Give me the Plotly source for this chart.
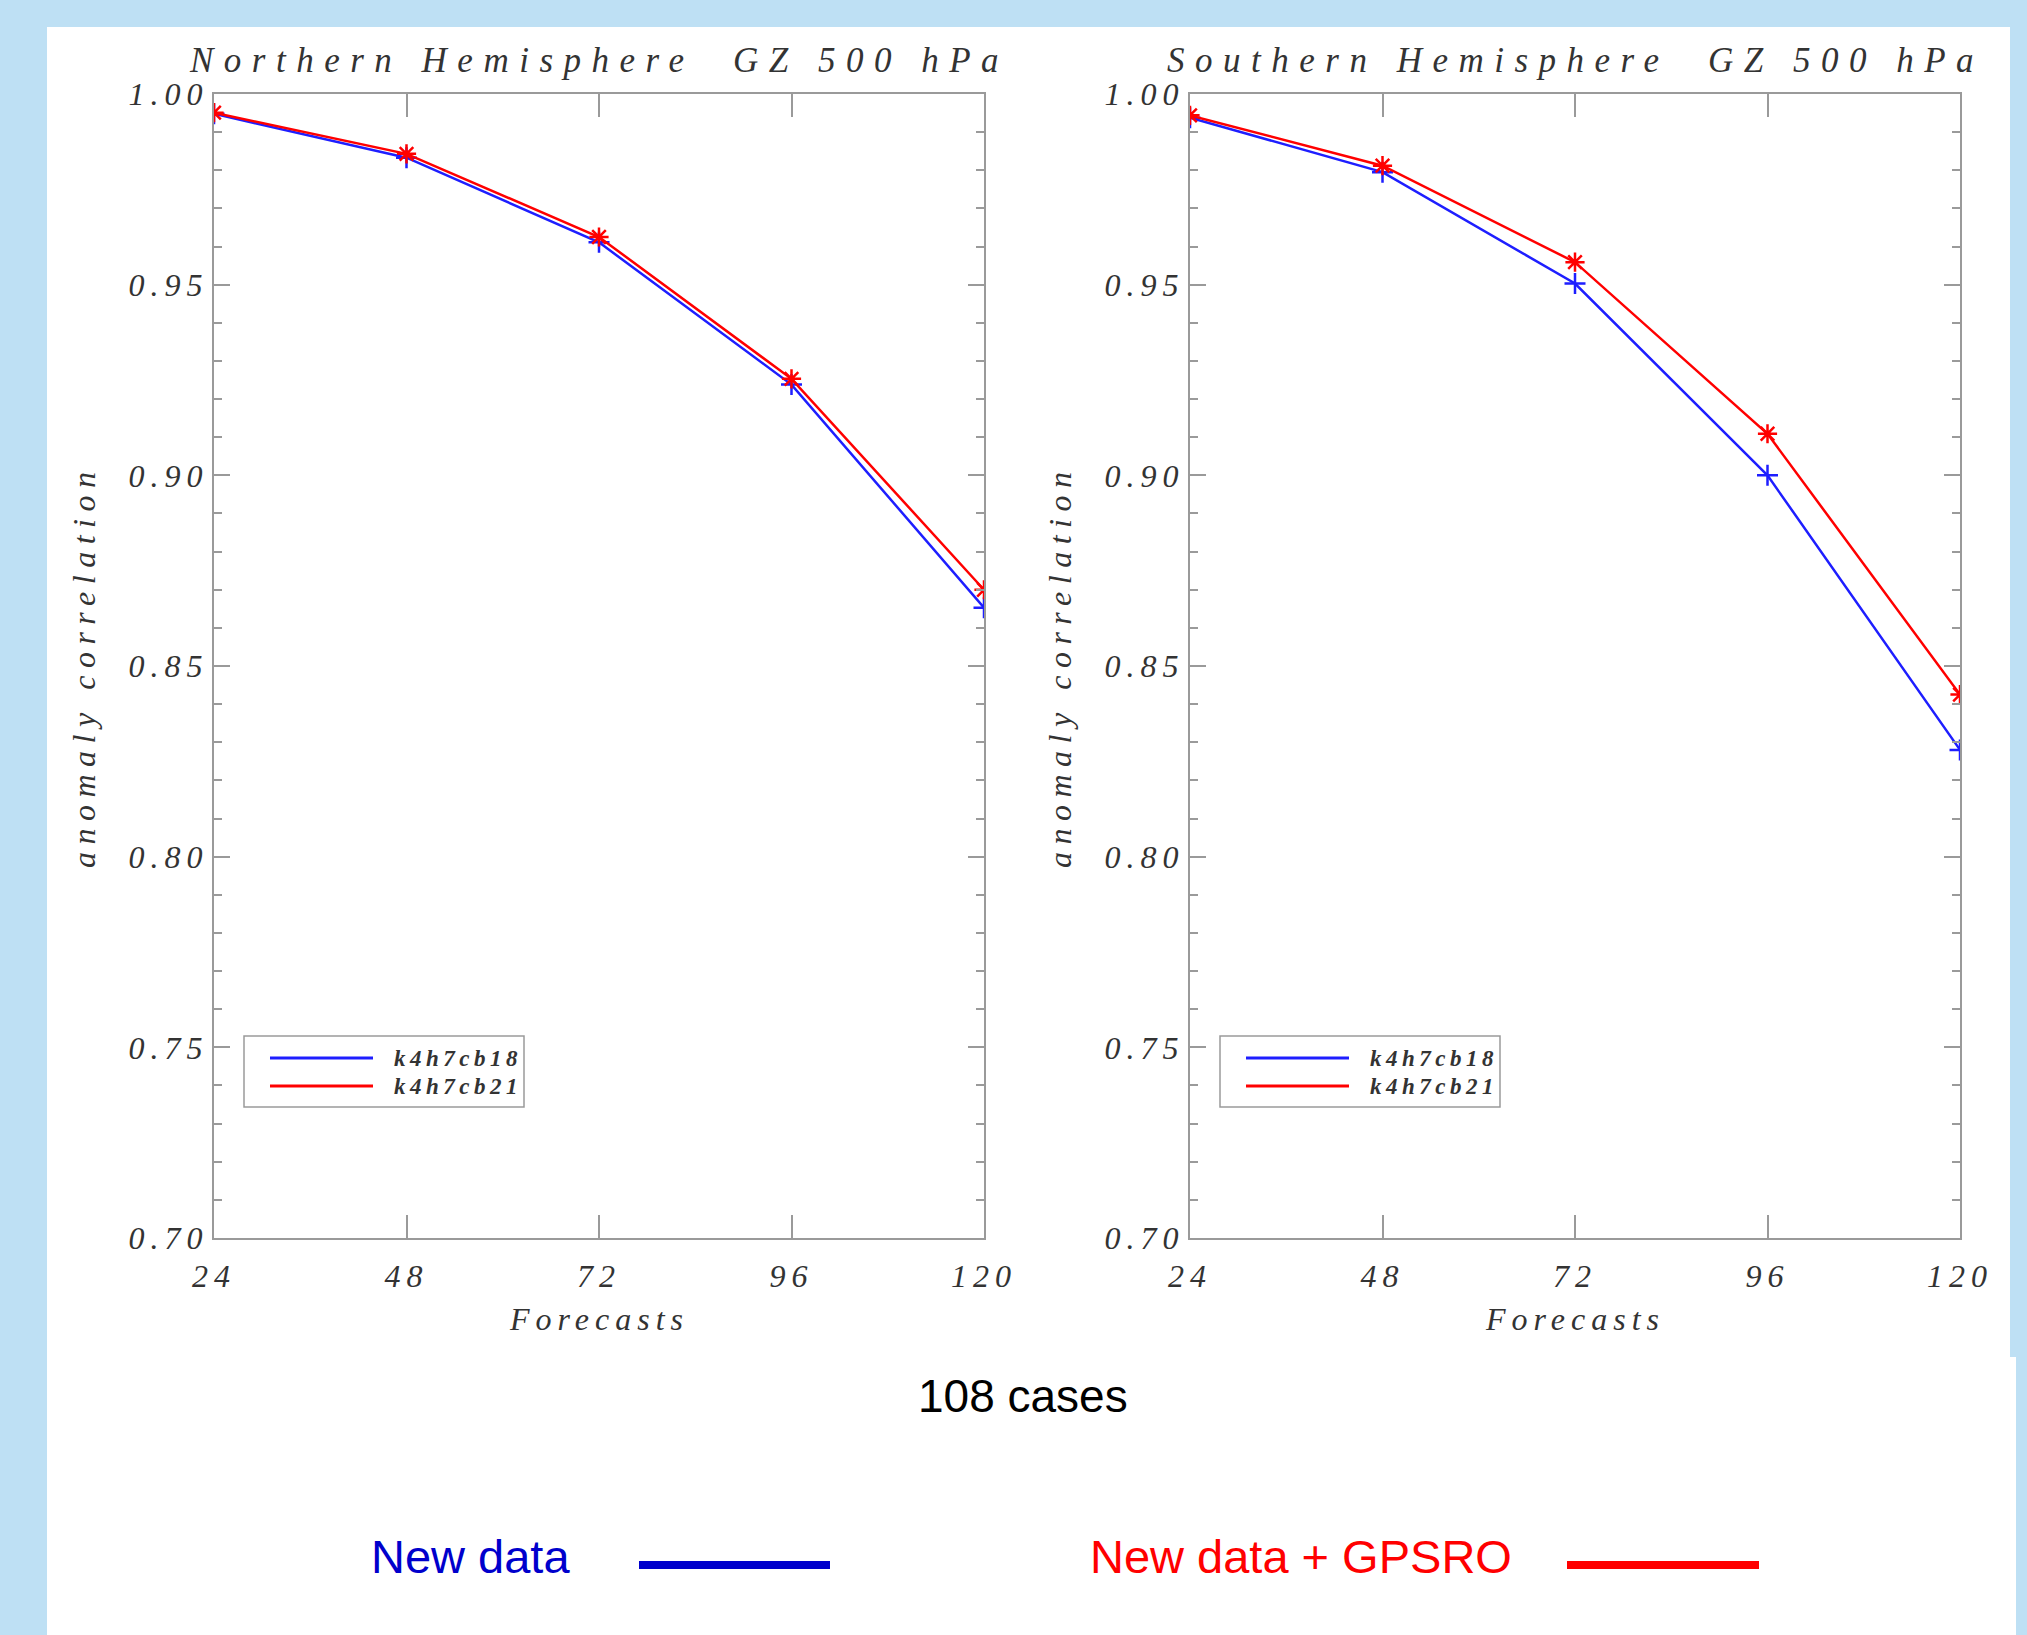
import plotly.graph_objects as go

# ---------------- data ----------------
forecast_hours = [24, 48, 72, 96, 120]
x_tick_labels = ["24", "48", "72", "96", "120"]
y_tick_values = [0.70, 0.75, 0.80, 0.85, 0.90, 0.95, 1.00]
y_tick_labels = ["0.70", "0.75", "0.80", "0.85", "0.90", "0.95", "1.00"]

nh_new_data = [0.9948, 0.9833, 0.9611, 0.9238, 0.8653]     # k4h7cb18
nh_new_gpsro = [0.9951, 0.9843, 0.9625, 0.9253, 0.8700]    # k4h7cb21
sh_new_data = [0.9938, 0.9795, 0.9503, 0.9000, 0.8280]     # k4h7cb18
sh_new_gpsro = [0.9944, 0.9812, 0.9559, 0.9109, 0.8425]    # k4h7cb21

panel_titles = ["Northern Hemisphere\u00a0\u00a0GZ 500 hPa",
                "Southern Hemisphere\u00a0\u00a0GZ 500 hPa"]
run_names = ["k4h7cb18", "k4h7cb21"]
x_title = "Forecasts"
y_title = "anomaly correlation"
cases_text = "108 cases"
bottom_labels = ["New data", "New data + GPSRO"]

# ---------------- styling ----------------
W, H = 2027, 1635
BG = "rgb(190,224,244)"
GREY = "#9a9a9a"
TXT = "#333333"
BLUE = "rgb(30,30,255)"
RED = "rgb(255,0,0)"
SERIF = "Liberation Serif"


def px(x):
    return x / W


def py(y):
    return 1 - y / H


def spaced(text, ls):
    return f'<span style="letter-spacing:{ls}px">{text}</span>'


dom_y = [py(1238), py(94)]
dom_x = [[px(214), px(984)], [px(1190), px(1960)]]

fig = go.Figure()

panels = [(nh_new_data, nh_new_gpsro), (sh_new_data, sh_new_gpsro)]
for i, (blue_vals, red_vals) in enumerate(panels):
    xa = "x" if i == 0 else "x2"
    ya = "y" if i == 0 else "y2"
    fig.add_trace(go.Scatter(
        x=forecast_hours, y=blue_vals, xaxis=xa, yaxis=ya, name=run_names[0],
        mode="lines+markers", showlegend=False,
        line=dict(color=BLUE, width=2.5),
        marker=dict(symbol="cross-thin", size=15, color=BLUE,
                    line=dict(color=BLUE, width=2.5)),
    ))
    fig.add_trace(go.Scatter(
        x=forecast_hours, y=red_vals, xaxis=xa, yaxis=ya, name=run_names[1],
        mode="lines+markers", showlegend=False,
        line=dict(color=RED, width=2.5),
        marker=dict(symbol="asterisk-open", size=16, color=RED,
                    line=dict(color=RED, width=2.5)),
    ))

tickfont = dict(family=SERIF, size=32, color=TXT, style="italic")

for i in range(2):
    sx = "" if i == 0 else "2"
    fig.layout["xaxis" + sx] = dict(
        domain=dom_x[i], anchor="y" + sx, range=[24, 120], automargin=False,
        tickmode="array", tickvals=forecast_hours,
        ticktext=[spaced(t, 6) for t in x_tick_labels],
        ticks="inside", ticklen=23, tickwidth=1.5, tickcolor=GREY,
        showline=True, linecolor=GREY, linewidth=2, mirror="ticks",
        showgrid=False, zeroline=False, tickfont=tickfont,
        ticklabelstandoff=9,
    )
    fig.layout["yaxis" + sx] = dict(
        domain=dom_y, anchor="x" + sx, range=[0.70, 1.00], automargin=False,
        tickmode="array", tickvals=y_tick_values,
        ticktext=[spaced(t, 6) for t in y_tick_labels],
        ticks="inside", ticklen=16, tickwidth=1.5, tickcolor=GREY,
        minor=dict(tickmode="linear", tick0=0.70, dtick=0.01, ticks="inside",
                   ticklen=8, tickwidth=1.5, tickcolor=GREY, showgrid=False),
        showline=True, linecolor=GREY, linewidth=2, mirror="ticks",
        showgrid=False, zeroline=False, tickfont=tickfont,
        ticklabelstandoff=-3,
    )

annotations = []
shapes = []

# white panel
shapes.append(dict(type="rect", xref="paper", yref="paper", layer="below",
                   x0=px(47), x1=px(2010), y0=0, y1=py(27),
                   fillcolor="white", line=dict(width=0)))
shapes.append(dict(type="rect", xref="paper", yref="paper", layer="below",
                   x0=px(2005), x1=px(2016), y0=0, y1=py(1357),
                   fillcolor="white", line=dict(width=0)))

centers = [599, 1575]
for i in range(2):
    sx = "" if i == 0 else "2"
    # panel title
    annotations.append(dict(
        xref="paper", yref="paper", x=px(centers[i]), y=py(60),
        xanchor="center", yanchor="middle", showarrow=False,
        text=spaced(panel_titles[i], 10.5),
        font=dict(family=SERIF, size=35, color=TXT, style="italic")))
    # x title
    annotations.append(dict(
        xref="paper", yref="paper", x=px(centers[i]), y=py(1319),
        xanchor="center", yanchor="middle", showarrow=False,
        text=spaced(x_title, 6),
        font=dict(family=SERIF, size=32, color=TXT, style="italic")))
    # y title
    annotations.append(dict(
        xref="paper", yref="paper", x=px(84 + (centers[i] - 599)), y=py(666),
        xanchor="center", yanchor="middle", showarrow=False, textangle=-90,
        text=spaced(y_title, 7.5),
        font=dict(family=SERIF, size=32, color=TXT, style="italic")))
    # legend box inside the panel
    xd = "x" + sx + " domain"
    yd = "y" + sx + " domain"
    shapes.append(dict(type="rect", xref=xd, yref=yd,
                       x0=30 / 770, x1=310 / 770,
                       y0=(1238 - 1107) / 1144, y1=(1238 - 1036) / 1144,
                       line=dict(color=GREY, width=1.5), fillcolor="white"))
    for j, (yy, col) in enumerate([(1058, BLUE), (1086, RED)]):
        yv = (1238 - yy) / 1144
        shapes.append(dict(type="line", xref=xd, yref=yd,
                           x0=56 / 770, x1=159 / 770, y0=yv, y1=yv,
                           line=dict(color=col, width=3)))
        annotations.append(dict(
            xref=xd, yref=yd, x=178 / 770, y=yv,
            xanchor="left", yanchor="middle", showarrow=False,
            text=spaced(run_names[j], 4.5),
            font=dict(family=SERIF, size=23, color=TXT, style="italic",
                      weight="bold")))

# bottom caption and legend
annotations.append(dict(
    xref="paper", yref="paper", x=px(1023), y=py(1396),
    xanchor="center", yanchor="middle", showarrow=False, text=cases_text,
    font=dict(family="Liberation Sans", size=46, color="black")))
annotations.append(dict(
    xref="paper", yref="paper", x=px(369), y=py(1556),
    xanchor="left", yanchor="middle", showarrow=False, text=bottom_labels[0],
    font=dict(family="Liberation Sans", size=47, color="rgb(0,0,204)")))
annotations.append(dict(
    xref="paper", yref="paper", x=px(1088), y=py(1556),
    xanchor="left", yanchor="middle", showarrow=False, text=bottom_labels[1],
    font=dict(family="Liberation Sans", size=47, color="rgb(255,0,0)")))
shapes.append(dict(type="line", xref="paper", yref="paper",
                   x0=px(639), x1=px(830), y0=py(1565), y1=py(1565),
                   line=dict(color="rgb(0,0,204)", width=8)))
shapes.append(dict(type="line", xref="paper", yref="paper",
                   x0=px(1567), x1=px(1759), y0=py(1565), y1=py(1565),
                   line=dict(color="rgb(255,0,0)", width=8)))

fig.update_layout(
    width=W, height=H, margin=dict(l=0, r=0, t=0, b=0, autoexpand=False),
    paper_bgcolor=BG, plot_bgcolor="white",
    showlegend=False, annotations=annotations, shapes=shapes,
)

# remove the default 8px page margin so the figure sits at the window origin
fig.write_html(
    "out.html",
    config={"displayModeBar": False},
    post_script="document.body.style.margin='0';"
                "document.body.style.background='" + BG + "';",
)
